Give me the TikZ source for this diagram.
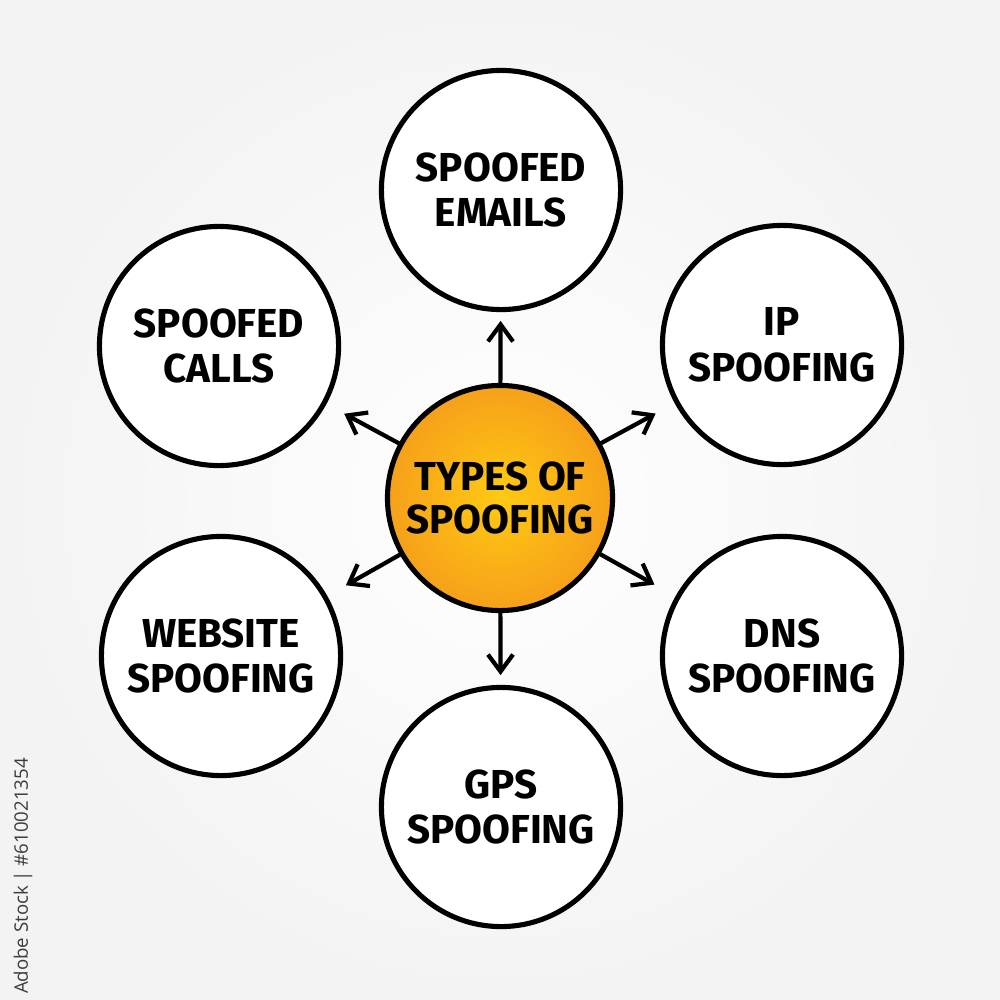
\documentclass[tikz,border=0pt]{standalone}
\usepackage{fontspec}
\setmainfont{Fira Sans}
\newfontfamily\wmfont{Open Sans}
\usetikzlibrary{arrows.meta,calc}
\definecolor{bgout}{RGB}{243,243,243}
\definecolor{ycol}{RGB}{255,202,18}
\definecolor{ocol}{RGB}{246,160,26}
\definecolor{wmgray}{RGB}{60,60,60}
\tikzset{
  labelfont/.style={font=\bfseries\fontsize{11.5}{13}\selectfont, align=center, text=black},
  outer/.style={circle, draw=black, line width=1.45pt, fill=white, minimum size=2.39cm, inner sep=0pt, labelfont},
  hub/.style={circle, draw=black, line width=1.45pt, shading=radial, inner color=ycol, outer color=ocol, minimum size=2.25cm, inner sep=0pt, labelfont},
  arr/.style={-{Straight Barb[length=1.7mm,width=2.5mm]}, line width=1.2pt, line cap=round, line join=round}
}
\begin{document}
\begin{tikzpicture}[x=0.01cm,y=-0.01cm]
\useasboundingbox (0,0) rectangle (1000,1000);
\fill[shading=radial, inner color=white, outer color=bgout] (0,0) rectangle (1000,1000);
\node[hub] (c) at (500,498) {\raisebox{-0.05cm}{\shortstack{TYPES OF\\[1pt]SPOOFING}}};
\node[outer] (e) at (501,190) {SPOOFED\\EMAILS};
\node[outer] (ip) at (782,345) {IP\\SPOOFING};
\node[outer] (dns) at (782,656) {DNS\\SPOOFING};
\node[outer] (gps) at (501,807) {GPS\\SPOOFING};
\node[outer] (web) at (221,656) {WEBSITE\\SPOOFING};
\node[outer] (calls) at (219,346) {SPOOFED\\CALLS};
\foreach \t in {e,ip,dns,gps,web,calls}{
  \draw[arr] (c) -- ($(c.center)!1.77cm!(\t.center)$);
}
\node[rotate=90, font=\wmfont\fontsize{5.3}{6}\selectfont, text=wmgray] (wm) at (23,876) {Adobe Stock | \#610021354};
\end{tikzpicture}
\end{document}
